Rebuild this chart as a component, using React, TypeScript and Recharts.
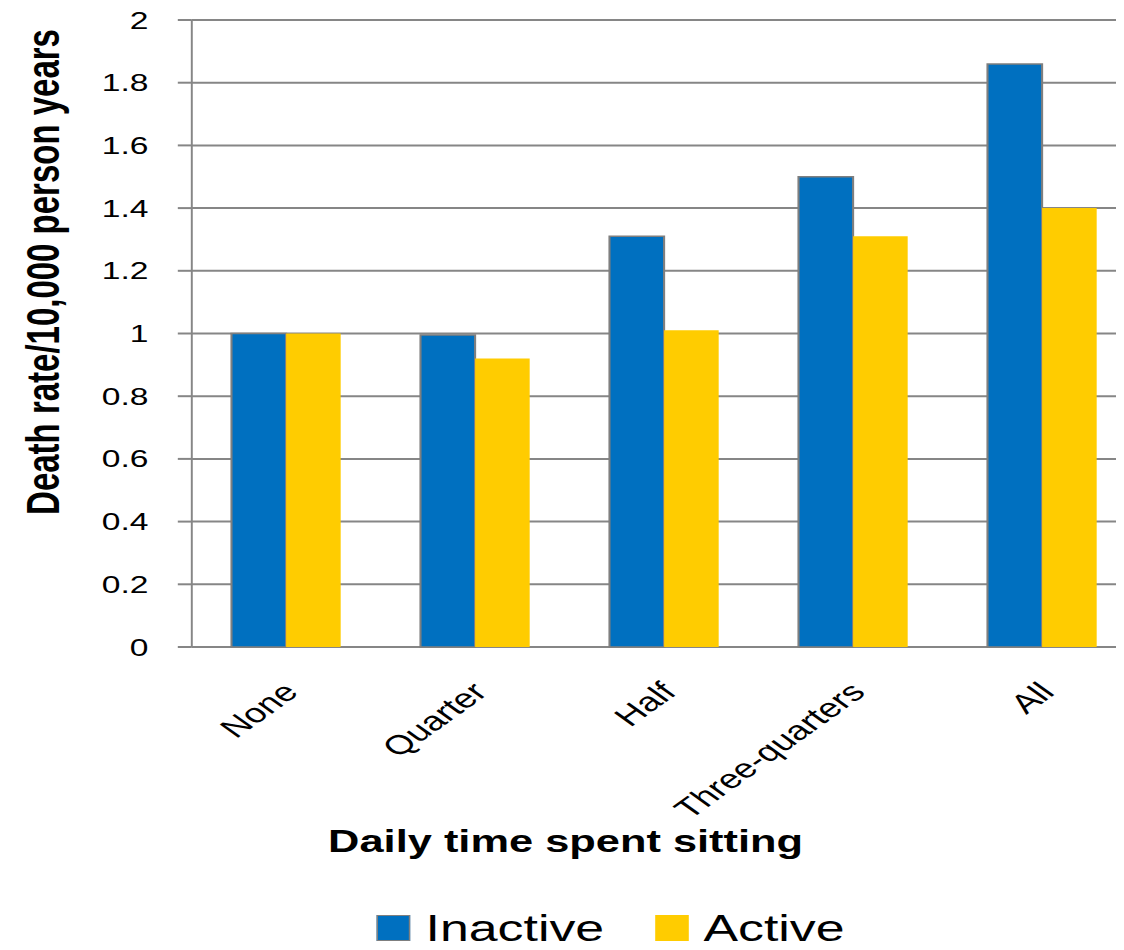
import { Bar, BarChart, CartesianGrid, Legend, XAxis, YAxis } from "recharts"

// values
const categories = ["None", "Quarter", "Half", "Three-quarters", "All"]
const inactive = [1.0, 0.995, 1.31, 1.5, 1.86]
const active = [1.0, 0.92, 1.01, 1.31, 1.4]
const yTicks = [0, 0.2, 0.4, 0.6, 0.8, 1, 1.2, 1.4, 1.6, 1.8, 2]
const edgeTicks = [0, 1, 2, 3, 4, 5]
const legendOrder = ["Inactive", "Active"]

const data = categories.map((name, i) => ({ name, inactive: inactive[i], active: active[i] }))

const FONT = "'Liberation Sans', Arial, sans-serif"
const GRID = "#868686"
const BLUE = "#0070C0"
const YELLOW = "#FFCC00"

// the reference is stretched horizontally, so the chart is drawn narrow and scaled
const STRETCH = 1.4
const W = 815
const H = 950

function XTick(props: any) {
    const { x, y, payload } = props
    const ax = x + 3
    const ay = y + 32
    return (
        <text
            x={ax}
            y={ay}
            transform={`rotate(-45, ${ax}, ${ay})`}
            textAnchor="end"
            dominantBaseline="central"
            fontFamily={FONT}
            fontSize={27}
            fill="#000"
        >
            {payload.value}
        </text>
    )
}

const renderXTitle = () => (
    <text x={404} y={852} textAnchor="middle" fontFamily={FONT} fontWeight="bold" fontSize={31} fill="#000">
        Daily time spent sitting
    </text>
)

const renderYTitle = () => (
    <text
        x={31}
        y={272}
        transform="rotate(-90, 31, 272)"
        textAnchor="middle"
        dominantBaseline="central"
        fontFamily={FONT}
        fontWeight="bold"
        fontSize={33}
        fill="#000"
    >
        Death rate/10,000 person years
    </text>
)

function LegendBox(props: any) {
    const items = [...(props.payload || [])].sort(
        (a: any, b: any) => legendOrder.indexOf(a.value) - legendOrder.indexOf(b.value)
    )
    return (
        <div style={{ height: 88, display: "flex", alignItems: "center", paddingLeft: 269, paddingTop: 44, boxSizing: "border-box" }}>
            {items.map((entry: any, i: number) => (
                <div key={entry.value} style={{ display: "flex", alignItems: "center", marginLeft: i === 0 ? 0 : 36 }}>
                    <div
                        style={{
                            width: 24,
                            height: 26,
                            background: entry.color,
                            boxSizing: "border-box",
                            border: i === 0 ? "1.5px solid #7F7F7F" : "none",
                        }}
                    />
                    <span style={{ marginLeft: 11, fontFamily: FONT, fontSize: 37, lineHeight: 1, color: "#000" }}>
                        {entry.value}
                    </span>
                </div>
            ))}
        </div>
    )
}

export default function App() {
    return (
        <div style={{ margin: "-8px", width: 1124, height: H, overflow: "hidden", background: "#fff" }}>
            <div style={{ width: W, height: H, transform: `scaleX(${STRETCH})`, transformOrigin: "0 0" }}>
                <BarChart
                    width={W}
                    height={H}
                    data={data}
                    margin={{ top: 20, right: 3, left: 0, bottom: 0 }}
                    barGap={0}
                    barCategoryGap="21%"
                >
                    <CartesianGrid vertical={false} stroke={GRID} strokeWidth={2} />
                    <XAxis
                        xAxisId="edges"
                        type="number"
                        domain={[0, 5]}
                        ticks={edgeTicks}
                        tickFormatter={() => ""}
                        tickSize={10}
                        height={0}
                        allowDataOverflow
                        axisLine={{ stroke: GRID, strokeWidth: 2 }}
                        tickLine={{ stroke: GRID, strokeWidth: 1.4 }}
                    />
                    <XAxis
                        dataKey="name"
                        height={215}
                        interval={0}
                        tickLine={false}
                        axisLine={false}
                        tick={<XTick />}
                        label={{ content: renderXTitle }}
                    />
                    <YAxis
                        domain={[0, 2]}
                        ticks={yTicks}
                        interval={0}
                        width={137}
                        tickSize={10}
                        tickMargin={21}
                        axisLine={{ stroke: GRID, strokeWidth: 1.4 }}
                        tickLine={{ stroke: GRID, strokeWidth: 2 }}
                        tick={{ fill: "#000", fontSize: 24, fontFamily: FONT }}
                        label={{ content: renderYTitle }}
                    />
                    <Legend
                        verticalAlign="bottom"
                        content={<LegendBox />}
                        wrapperStyle={{ left: 0, bottom: 0, width: W, height: 88 }}
                    />
                    <Bar
                        dataKey="inactive"
                        name="Inactive"
                        fill={BLUE}
                        stroke="#7F7F7F"
                        strokeWidth={1.5}
                        isAnimationActive={false}
                    />
                    <Bar dataKey="active" name="Active" fill={YELLOW} isAnimationActive={false} />
                </BarChart>
            </div>
        </div>
    )
}
